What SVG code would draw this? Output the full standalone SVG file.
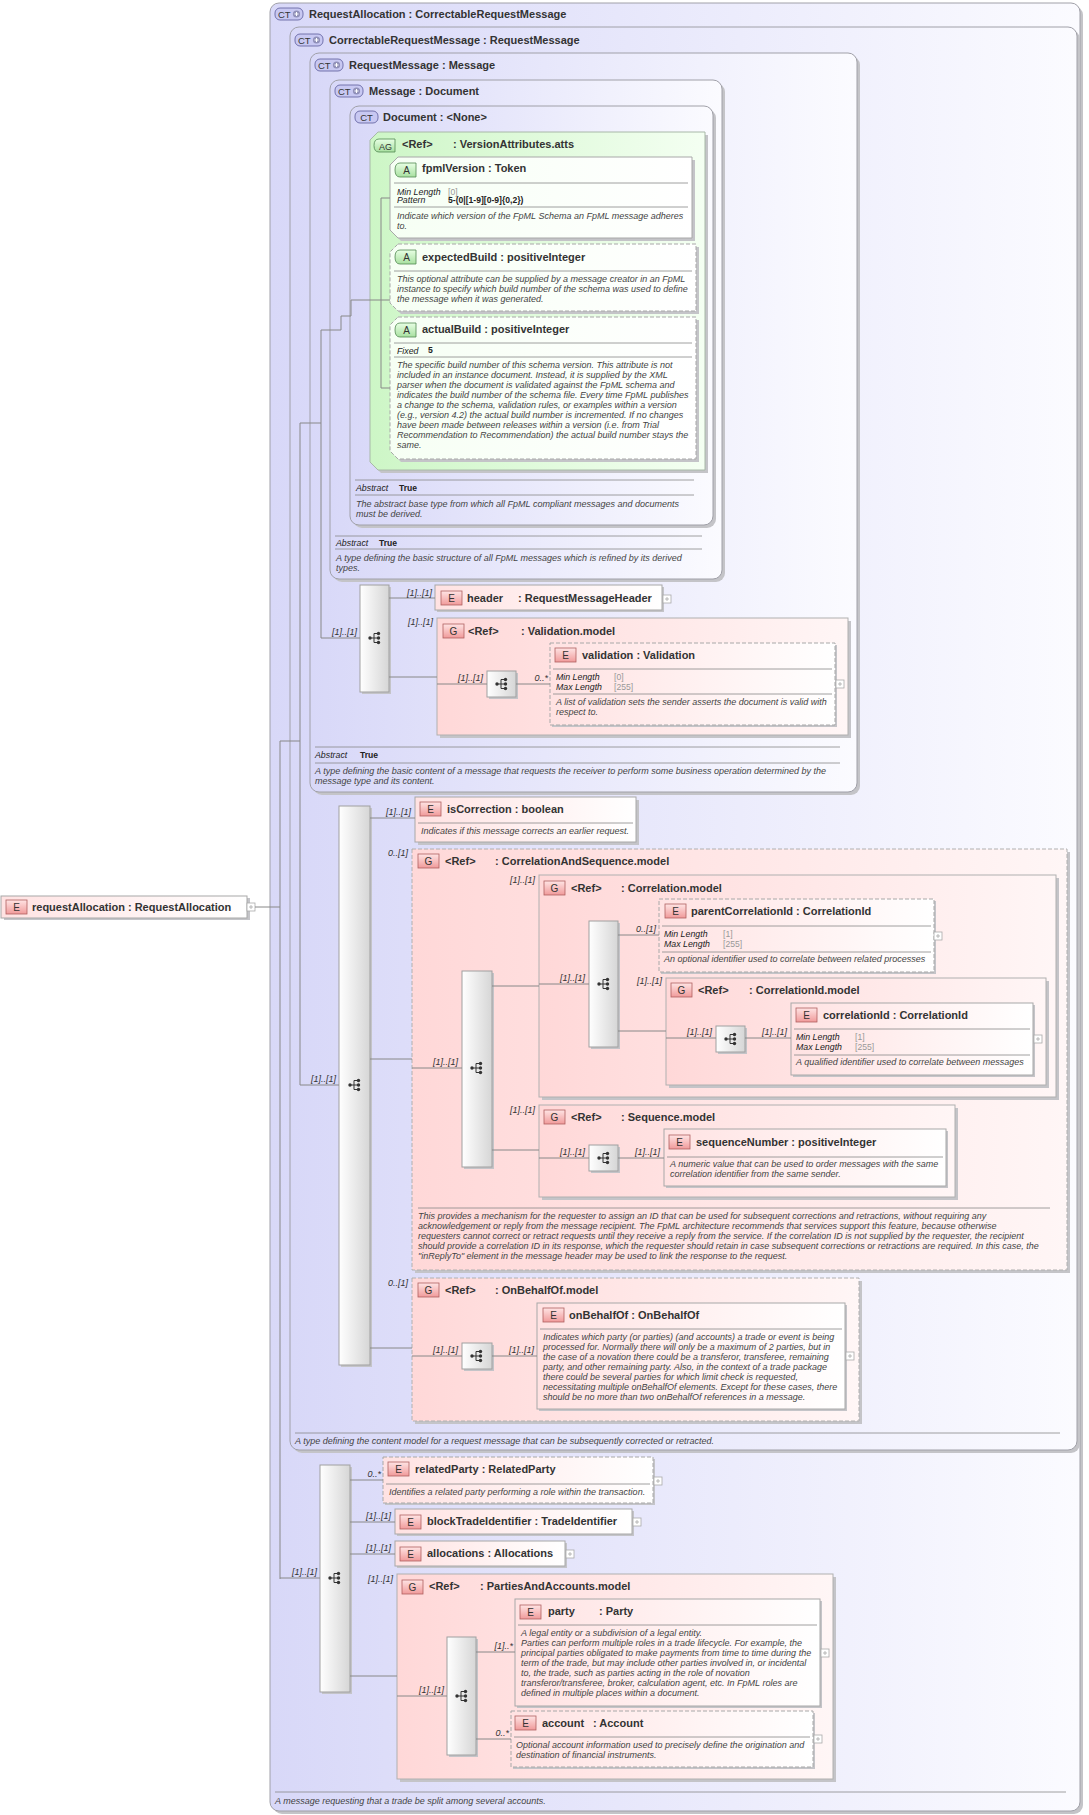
<svg xmlns="http://www.w3.org/2000/svg" width="1089" height="1815" viewBox="0 0 1089 1815">
<defs>
<linearGradient id="gCT" x1="0" y1="0" x2="1" y2="0"><stop offset="0" stop-color="#d8d8f8"/><stop offset="1" stop-color="#fbfbff"/></linearGradient>
<linearGradient id="gG" x1="0" y1="0" x2="1" y2="0"><stop offset="0" stop-color="#ffd8d8"/><stop offset="1" stop-color="#fff6f6"/></linearGradient>
<linearGradient id="gE" x1="0" y1="0" x2="1" y2="0"><stop offset="0" stop-color="#ffe2e2"/><stop offset="1" stop-color="#ffffff"/></linearGradient>
<linearGradient id="gAG" x1="0" y1="0" x2="1" y2="0"><stop offset="0" stop-color="#cdf6c6"/><stop offset="1" stop-color="#f4fff2"/></linearGradient>
<linearGradient id="gA" x1="0" y1="0" x2="1" y2="0"><stop offset="0" stop-color="#f6fff4"/><stop offset="1" stop-color="#ffffff"/></linearGradient>
<linearGradient id="gSeq" x1="0" y1="0" x2="1" y2="0"><stop offset="0" stop-color="#ffffff"/><stop offset="1" stop-color="#d6d6d6"/></linearGradient>
<linearGradient id="gBE" x1="0" y1="0" x2="0" y2="1"><stop offset="0" stop-color="#ffe4e4"/><stop offset="1" stop-color="#f09a9a"/></linearGradient>
<linearGradient id="gBA" x1="0" y1="0" x2="0" y2="1"><stop offset="0" stop-color="#e8ffe4"/><stop offset="1" stop-color="#a8e0a0"/></linearGradient>
<g id="seqIcon" fill="#333" stroke="#333" stroke-width="1">
<circle cx="-5" cy="0" r="1.7" stroke="none"/><line x1="-5" y1="0" x2="3" y2="0"/><line x1="-1" y1="-4.5" x2="-1" y2="4.5"/><line x1="-1" y1="-4.5" x2="3" y2="-4.5"/><line x1="-1" y1="4.5" x2="3" y2="4.5"/>
<circle cx="3.5" cy="-4.5" r="1.7" stroke="none"/><circle cx="3.5" cy="0" r="1.7" stroke="none"/><circle cx="3.5" cy="4.5" r="1.7" stroke="none"/>
</g>
<g id="plus"><rect x="0" y="0" width="8" height="8" fill="#fff" stroke="#aaa" stroke-width="0.8"/><path d="M2 4H6M4 2V6" stroke="#aaa" stroke-width="0.8"/></g>
<g id="bE"><rect x="0" y="0" width="21" height="14" fill="url(#gBE)" stroke="#b06060" stroke-width="0.8"/><text x="10.5" y="11" text-anchor="middle" font-family="Liberation Sans, Arial, sans-serif" font-size="10" fill="#333">E</text></g>
<g id="bG"><rect x="0" y="0" width="21" height="14" fill="url(#gBE)" stroke="#b06060" stroke-width="0.8"/><text x="10.5" y="11" text-anchor="middle" font-family="Liberation Sans, Arial, sans-serif" font-size="10" fill="#333">G</text></g>
<g id="bA"><path d="M5 0H21V14H5Q0 14 0 7Q0 0 5 0Z" fill="url(#gBA)" stroke="#508850" stroke-width="0.8"/><text x="11.5" y="11" text-anchor="middle" font-family="Liberation Sans, Arial, sans-serif" font-size="10" fill="#333">A</text></g>
<g id="bAG"><path d="M5 0H21V13H5Q0 13 0 6.5Q0 0 5 0Z" fill="url(#gBA)" stroke="#508850" stroke-width="0.8"/><text x="11.5" y="10.5" text-anchor="middle" font-family="Liberation Sans, Arial, sans-serif" font-size="9" fill="#333">AG</text></g>
<g id="bCTp"><rect x="0" y="0" width="28" height="12" rx="5" fill="#c8c8f2" stroke="#5a5a9a" stroke-width="0.8"/><text x="3" y="10" font-family="Liberation Sans, Arial, sans-serif" font-size="9.5" fill="#333">CT</text><circle cx="21.5" cy="6" r="3.6" fill="#9090b8"/><path d="M19.5 6H23.5M21.5 4V8" stroke="#fff" stroke-width="1.1"/></g>
<g id="bCT"><rect x="0" y="0" width="23" height="12" rx="5" fill="#c8c8f2" stroke="#5a5a9a" stroke-width="0.8"/><text x="11.5" y="10" text-anchor="middle" font-family="Liberation Sans, Arial, sans-serif" font-size="9.5" fill="#333">CT</text></g>
</defs>
<style>
.t{font-family:"Liberation Sans",Arial,sans-serif;font-size:11px;font-weight:bold;fill:#333}
.d{font-family:"Liberation Sans",Arial,sans-serif;font-size:9px;font-style:italic;fill:#444}
.k{font-family:"Liberation Sans",Arial,sans-serif;font-size:8.8px;font-style:italic;fill:#222}
.v{font-family:"Liberation Sans",Arial,sans-serif;font-size:8.6px;fill:#999}
.vb{font-family:"Liberation Sans",Arial,sans-serif;font-size:8.6px;font-weight:bold;fill:#222}
.m{font-family:"Liberation Sans",Arial,sans-serif;font-size:9px;font-style:italic;fill:#333;text-anchor:end}
.ct{fill:url(#gCT);stroke:#a0a0a8;stroke-width:1}
.sh{fill:#c4c4c8;stroke:none}
.gg{fill:url(#gG);stroke:#b0b0b0;stroke-width:1}
.ee{fill:url(#gE);stroke:#a8a8a8;stroke-width:1}
.dash{stroke-dasharray:4,2}
.sep{stroke:#888;stroke-width:0.8}
.seq{fill:url(#gSeq);stroke:#a0a0a0;stroke-width:1}
.cn{stroke:#888;stroke-width:1;fill:none}
</style>

<g id="ct-RequestAllocation">
<rect class="sh" x="273" y="6" width="810" height="1808" rx="9"/>
<rect class="ct" x="270" y="3" width="810" height="1808" rx="9"/>
<use href="#bCTp" x="275" y="8"/>
<text class="t" x="309" y="18">RequestAllocation : CorrectableRequestMessage</text>
<line class="sep" x1="275" y1="1792" x2="1066" y2="1792"/>
<text class="d" x="275" y="1804">A message requesting that a trade be split among several accounts.</text>
</g>

<g id="ct-CorrectableRequestMessage">
<rect class="sh" x="293" y="30" width="787" height="1423" rx="9"/>
<rect class="ct" x="290" y="27" width="787" height="1423" rx="9"/>
<use href="#bCTp" x="295" y="34"/>
<text class="t" x="329" y="44">CorrectableRequestMessage : RequestMessage</text>
<line class="sep" x1="295" y1="1433" x2="1060" y2="1433"/>
<text class="d" x="295" y="1444">A type defining the content model for a request message that can be subsequently corrected or retracted.</text>
</g>

<g id="ct-RequestMessage">
<rect class="sh" x="313" y="56" width="547" height="739" rx="9"/>
<rect class="ct" x="310" y="53" width="547" height="739" rx="9"/>
<use href="#bCTp" x="315" y="59"/>
<text class="t" x="349" y="69">RequestMessage : Message</text>
<line class="sep" x1="315" y1="747" x2="840" y2="747"/>
<text class="k" x="315" y="758">Abstract</text><text class="vb" x="360" y="758">True</text>
<line class="sep" x1="315" y1="763" x2="840" y2="763"/>
<text class="d" x="315" y="774">A type defining the basic content of a message that requests the receiver to perform some business operation determined by the</text>
<text class="d" x="315" y="784">message type and its content.</text>
</g>

<g id="ct-Message">
<rect class="sh" x="333" y="83" width="392" height="499" rx="9"/>
<rect class="ct" x="330" y="80" width="392" height="499" rx="9"/>
<use href="#bCTp" x="335" y="85"/>
<text class="t" x="369" y="95">Message : Document</text>
<line class="sep" x1="335" y1="536" x2="702" y2="536"/>
<text class="k" x="336" y="546">Abstract</text><text class="vb" x="379" y="546">True</text>
<line class="sep" x1="335" y1="549" x2="702" y2="549"/>
<text class="d" x="336" y="561">A type defining the basic structure of all FpML messages which is refined by its derived</text>
<text class="d" x="336" y="571">types.</text>
</g>

<g id="ct-Document">
<rect class="sh" x="353" y="109" width="363" height="419" rx="9"/>
<rect class="ct" x="350" y="106" width="363" height="419" rx="9"/>
<use href="#bCT" x="355" y="111"/>
<text class="t" x="383" y="121">Document : &lt;None&gt;</text>
<line class="sep" x1="355" y1="480" x2="694" y2="480"/>
<text class="k" x="356" y="491">Abstract</text><text class="vb" x="399" y="491">True</text>
<line class="sep" x1="355" y1="495" x2="694" y2="495"/>
<text class="d" x="356" y="507">The abstract base type from which all FpML compliant messages and documents</text>
<text class="d" x="356" y="517">must be derived.</text>
</g>

<g id="ag-VersionAttributes">
<path d="M381 135H708V473H381L373 465V143Z" fill="#c4c4c8"/>
<path d="M378 132H705V470H378L370 462V140Z" fill="url(#gAG)" stroke="#a8b8a8" stroke-width="1"/>
<use href="#bAG" x="374" y="139"/>
<text class="t" x="402" y="148">&lt;Ref&gt;</text><text class="t" x="453" y="148">: VersionAttributes.atts</text>
</g>

<g id="a-fpmlVersion">
<path d="M401 160H695V241H401L393 233V168Z" fill="#c4c4c8"/>
<path d="M398 157H692V238H398L390 230V165Z" fill="url(#gA)" stroke="#a8a8a8" stroke-width="1"/>
<use href="#bA" x="395" y="163"/>
<text class="t" x="422" y="172">fpmlVersion : Token</text>
<line class="sep" x1="394" y1="183" x2="688" y2="183"/>
<text class="k" x="397" y="195">Min Length</text><text class="v" x="448" y="195">[0]</text>
<text class="k" x="397" y="203">Pattern</text><text class="vb" x="448" y="203">5-(0|[1-9][0-9]{0,2})</text>
<line class="sep" x1="394" y1="207" x2="688" y2="207"/>
<text class="d" x="397" y="219">Indicate which version of the FpML Schema an FpML message adheres</text>
<text class="d" x="397" y="229">to.</text>
</g>

<g id="a-expectedBuild">
<path d="M401 247H699V314H401L393 306V255Z" fill="#c4c4c8"/>
<path class="dash" d="M398 244H696V311H398L390 303V252Z" fill="url(#gA)" stroke="#a8a8a8" stroke-width="1"/>
<use href="#bA" x="395" y="250"/>
<text class="t" x="422" y="261">expectedBuild : positiveInteger</text>
<line class="sep" x1="394" y1="271" x2="692" y2="271"/>
<text class="d" x="397" y="282">This optional attribute can be supplied by a message creator in an FpML</text>
<text class="d" x="397" y="292">instance to specify which build number of the schema was used to define</text>
<text class="d" x="397" y="302">the message when it was generated.</text>
</g>

<g id="a-actualBuild">
<path d="M401 320H699V462H401L393 454V328Z" fill="#c4c4c8"/>
<path class="dash" d="M398 317H696V459H398L390 451V325Z" fill="url(#gA)" stroke="#a8a8a8" stroke-width="1"/>
<use href="#bA" x="395" y="323"/>
<text class="t" x="422" y="333">actualBuild : positiveInteger</text>
<line class="sep" x1="394" y1="343" x2="692" y2="343"/>
<text class="k" x="397" y="354">Fixed</text><text class="vb" x="428" y="353">5</text>
<line class="sep" x1="394" y1="357" x2="692" y2="357"/>
<text class="d" x="397" y="368">The specific build number of this schema version. This attribute is not</text>
<text class="d" x="397" y="378">included in an instance document. Instead, it is supplied by the XML</text>
<text class="d" x="397" y="388">parser when the document is validated against the FpML schema and</text>
<text class="d" x="397" y="398">indicates the build number of the schema file. Every time FpML publishes</text>
<text class="d" x="397" y="408">a change to the schema, validation rules, or examples within a version</text>
<text class="d" x="397" y="418">(e.g., version 4.2) the actual build number is incremented. If no changes</text>
<text class="d" x="397" y="428">have been made between releases within a version (i.e. from Trial</text>
<text class="d" x="397" y="438">Recommendation to Recommendation) the actual build number stays the</text>
<text class="d" x="397" y="448">same.</text>
</g>

<g id="e-requestAllocation">
<rect class="sh" x="4" y="898" width="246" height="22"/>
<rect class="ee" x="1" y="896" width="246" height="22"/>
<use href="#bE" x="6" y="900"/>
<text class="t" x="32" y="911">requestAllocation : RequestAllocation</text>
<use href="#plus" x="247" y="903"/>
</g>

<g id="seq-header"><rect class="sh" x="362" y="587" width="29" height="107"/><rect class="seq" x="360" y="585" width="29" height="107"/><use href="#seqIcon" x="375" y="638"/></g>
<g id="e-header">
<rect class="sh" x="437" y="587" width="227" height="25"/><rect class="ee" x="435" y="585" width="227" height="25"/>
<use href="#bE" x="441" y="591"/><text class="t" x="467" y="602">header</text><text class="t" x="518" y="602">: RequestMessageHeader</text>
<use href="#plus" x="663" y="595"/>
</g>
<g id="g-Validation">
<rect class="sh" x="440" y="621" width="411" height="117"/><rect class="gg" x="437" y="618" width="411" height="117"/>
<use href="#bG" x="443" y="624"/><text class="t" x="468" y="635">&lt;Ref&gt;</text><text class="t" x="521" y="635">: Validation.model</text>
</g>
<g id="seq-validation"><rect class="sh" x="489" y="673" width="29" height="26"/><rect class="seq" x="487" y="671" width="29" height="26"/><use href="#seqIcon" x="502" y="684"/></g>
<g id="e-validation">
<rect class="sh" x="552" y="645" width="285" height="82"/><rect class="ee dash" x="550" y="643" width="285" height="82"/>
<use href="#bE" x="555" y="648"/><text class="t" x="582" y="659">validation : Validation</text>
<line class="sep" x1="553" y1="669" x2="832" y2="669"/>
<text class="k" x="556" y="680">Min Length</text><text class="v" x="614" y="680">[0]</text>
<text class="k" x="556" y="690">Max Length</text><text class="v" x="614" y="690">[255]</text>
<line class="sep" x1="553" y1="694" x2="832" y2="694"/>
<text class="d" x="556" y="705">A list of validation sets the sender asserts the document is valid with</text>
<text class="d" x="556" y="715">respect to.</text>
<use href="#plus" x="836" y="680"/>
</g>

<g id="seq-main1"><rect class="sh" x="341" y="808" width="31" height="559"/><rect class="seq" x="339" y="806" width="31" height="559"/><use href="#seqIcon" x="355" y="1085"/></g>
<g id="e-isCorrection">
<rect class="sh" x="418" y="800" width="221" height="45"/><rect class="ee" x="415" y="797" width="221" height="45"/>
<use href="#bE" x="420" y="802"/><text class="t" x="447" y="813">isCorrection : boolean</text>
<line class="sep" x1="418" y1="823" x2="633" y2="823"/>
<text class="d" x="421" y="834">Indicates if this message corrects an earlier request.</text>
</g>
<g id="g-CorrelationAndSequence">
<rect class="sh" x="415" y="852" width="655" height="421"/><rect class="gg dash" x="412" y="849" width="655" height="421"/>
<use href="#bG" x="418" y="854"/><text class="t" x="445" y="865">&lt;Ref&gt;</text><text class="t" x="495" y="865">: CorrelationAndSequence.model</text>
<line class="sep" x1="418" y1="1208" x2="1050" y2="1208"/>
<text class="d" x="418" y="1219">This provides a mechanism for the requester to assign an ID that can be used for subsequent corrections and retractions, without requiring any</text>
<text class="d" x="418" y="1229">acknowledgement or reply from the message recipient. The FpML architecture recommends that services support this feature, because otherwise</text>
<text class="d" x="418" y="1239">requesters cannot correct or retract requests until they receive a reply from the service. If the correlation ID is not supplied by the requester, the recipient</text>
<text class="d" x="418" y="1249">should provide a correlation ID in its response, which the requester should retain in case subsequent corrections or retractions are required. In this case, the</text>
<text class="d" x="418" y="1259">"inReplyTo" element in the message header may be used to link the response to the request.</text>
</g>
<g id="seq-cas"><rect class="sh" x="464" y="973" width="30" height="196"/><rect class="seq" x="462" y="971" width="30" height="196"/><use href="#seqIcon" x="477" y="1068"/></g>
<g id="g-Correlation">
<rect class="sh" x="542" y="878" width="517" height="222"/><rect class="gg" x="539" y="875" width="517" height="222"/>
<use href="#bG" x="544" y="881"/><text class="t" x="571" y="892">&lt;Ref&gt;</text><text class="t" x="621" y="892">: Correlation.model</text>
</g>
<g id="seq-corr"><rect class="sh" x="591" y="923" width="29" height="126"/><rect class="seq" x="589" y="921" width="29" height="126"/><use href="#seqIcon" x="604" y="984"/></g>
<g id="e-parentCorrelationId">
<rect class="sh" x="661" y="901" width="275" height="73"/><rect class="ee dash" x="659" y="899" width="275" height="73"/>
<use href="#bE" x="665" y="904"/><text class="t" x="691" y="915">parentCorrelationId : CorrelationId</text>
<line class="sep" x1="662" y1="926" x2="931" y2="926"/>
<text class="k" x="664" y="937">Min Length</text><text class="v" x="723" y="937">[1]</text>
<text class="k" x="664" y="947">Max Length</text><text class="v" x="723" y="947">[255]</text>
<line class="sep" x1="662" y1="952" x2="931" y2="952"/>
<text class="d" x="664" y="962">An optional identifier used to correlate between related processes</text>
<use href="#plus" x="934" y="932"/>
</g>
<g id="g-CorrelationId">
<rect class="sh" x="669" y="981" width="380" height="107"/><rect class="gg" x="666" y="978" width="380" height="107"/>
<use href="#bG" x="671" y="983"/><text class="t" x="698" y="994">&lt;Ref&gt;</text><text class="t" x="749" y="994">: CorrelationId.model</text>
</g>
<g id="seq-corrid"><rect class="sh" x="718" y="1028" width="29" height="26"/><rect class="seq" x="716" y="1026" width="29" height="26"/><use href="#seqIcon" x="731" y="1039"/></g>
<g id="e-correlationId">
<rect class="sh" x="793" y="1005" width="242" height="72"/><rect class="ee" x="791" y="1003" width="242" height="72"/>
<use href="#bE" x="796" y="1008"/><text class="t" x="823" y="1019">correlationId : CorrelationId</text>
<line class="sep" x1="794" y1="1029" x2="1030" y2="1029"/>
<text class="k" x="796" y="1040">Min Length</text><text class="v" x="855" y="1040">[1]</text>
<text class="k" x="796" y="1050">Max Length</text><text class="v" x="855" y="1050">[255]</text>
<line class="sep" x1="794" y1="1055" x2="1030" y2="1055"/>
<text class="d" x="796" y="1065">A qualified identifier used to correlate between messages</text>
<use href="#plus" x="1034" y="1035"/>
</g>
<g id="g-Sequence">
<rect class="sh" x="542" y="1108" width="416" height="92"/><rect class="gg" x="539" y="1105" width="416" height="92"/>
<use href="#bG" x="544" y="1110"/><text class="t" x="571" y="1121">&lt;Ref&gt;</text><text class="t" x="621" y="1121">: Sequence.model</text>
</g>
<g id="seq-seq"><rect class="sh" x="591" y="1147" width="29" height="26"/><rect class="seq" x="589" y="1145" width="29" height="26"/><use href="#seqIcon" x="604" y="1158"/></g>
<g id="e-sequenceNumber">
<rect class="sh" x="666" y="1131" width="282" height="57"/><rect class="ee" x="664" y="1129" width="282" height="57"/>
<use href="#bE" x="669" y="1135"/><text class="t" x="696" y="1146">sequenceNumber : positiveInteger</text>
<line class="sep" x1="667" y1="1157" x2="943" y2="1157"/>
<text class="d" x="670" y="1167">A numeric value that can be used to order messages with the same</text>
<text class="d" x="670" y="1177">correlation identifier from the same sender.</text>
</g>
<g id="g-OnBehalfOf">
<rect class="sh" x="415" y="1281" width="447" height="143"/><rect class="gg dash" x="412" y="1278" width="447" height="143"/>
<use href="#bG" x="418" y="1283"/><text class="t" x="445" y="1294">&lt;Ref&gt;</text><text class="t" x="495" y="1294">: OnBehalfOf.model</text>
</g>
<g id="seq-obo"><rect class="sh" x="464" y="1345" width="30" height="26"/><rect class="seq" x="462" y="1343" width="30" height="26"/><use href="#seqIcon" x="477" y="1356"/></g>
<g id="e-onBehalfOf">
<rect class="sh" x="539" y="1305" width="308" height="106"/><rect class="ee" x="537" y="1303" width="308" height="106"/>
<use href="#bE" x="543" y="1308"/><text class="t" x="569" y="1319">onBehalfOf : OnBehalfOf</text>
<line class="sep" x1="540" y1="1329" x2="842" y2="1329"/>
<text class="d" x="543" y="1340">Indicates which party (or parties) (and accounts) a trade or event is being</text>
<text class="d" x="543" y="1350">processed for. Normally there will only be a maximum of 2 parties, but in</text>
<text class="d" x="543" y="1360">the case of a novation there could be a transferor, transferee, remaining</text>
<text class="d" x="543" y="1370">party, and other remaining party. Also, in the context of a trade package</text>
<text class="d" x="543" y="1380">there could be several parties for which limit check is requested,</text>
<text class="d" x="543" y="1390">necessitating multiple onBehalfOf elements. Except for these cases, there</text>
<text class="d" x="543" y="1400">should be no more than two onBehalfOf references in a message.</text>
<use href="#plus" x="846" y="1352"/>
</g>

<g id="seq-main2"><rect class="sh" x="322" y="1467" width="30" height="227"/><rect class="seq" x="320" y="1465" width="30" height="227"/><use href="#seqIcon" x="335" y="1578"/></g>
<g id="e-relatedParty">
<rect class="sh" x="385" y="1459" width="270" height="46"/><rect class="ee dash" x="383" y="1457" width="270" height="46"/>
<use href="#bE" x="388" y="1462"/><text class="t" x="415" y="1473">relatedParty : RelatedParty</text>
<line class="sep" x1="386" y1="1484" x2="650" y2="1484"/>
<text class="d" x="389" y="1495">Identifies a related party performing a role within the transaction.</text>
<use href="#plus" x="654" y="1477"/>
</g>
<g id="e-blockTradeIdentifier">
<rect class="sh" x="397" y="1511" width="237" height="25"/><rect class="ee" x="395" y="1509" width="237" height="25"/>
<use href="#bE" x="400" y="1515"/><text class="t" x="427" y="1525">blockTradeIdentifier : TradeIdentifier</text>
<use href="#plus" x="633" y="1518"/>
</g>
<g id="e-allocations">
<rect class="sh" x="397" y="1543" width="170" height="25"/><rect class="ee" x="395" y="1541" width="170" height="25"/>
<use href="#bE" x="400" y="1547"/><text class="t" x="427" y="1557">allocations : Allocations</text>
<use href="#plus" x="566" y="1550"/>
</g>
<g id="g-PartiesAndAccounts">
<rect class="sh" x="400" y="1577" width="436" height="205"/><rect class="gg" x="397" y="1574" width="436" height="205"/>
<use href="#bG" x="402" y="1580"/><text class="t" x="429" y="1590">&lt;Ref&gt;</text><text class="t" x="480" y="1590">: PartiesAndAccounts.model</text>
</g>
<g id="seq-paa"><rect class="sh" x="449" y="1639" width="29" height="118"/><rect class="seq" x="447" y="1637" width="29" height="118"/><use href="#seqIcon" x="462" y="1696"/></g>
<g id="e-party">
<rect class="sh" x="517" y="1601" width="305" height="107"/><rect class="ee" x="515" y="1599" width="305" height="107"/>
<use href="#bE" x="520" y="1605"/><text class="t" x="548" y="1615">party</text><text class="t" x="599" y="1615">: Party</text>
<line class="sep" x1="518" y1="1625" x2="817" y2="1625"/>
<text class="d" x="521" y="1636">A legal entity or a subdivision of a legal entity.</text>
<text class="d" x="521" y="1646">Parties can perform multiple roles in a trade lifecycle. For example, the</text>
<text class="d" x="521" y="1656">principal parties obligated to make payments from time to time during the</text>
<text class="d" x="521" y="1666">term of the trade, but may include other parties involved in, or incidental</text>
<text class="d" x="521" y="1676">to, the trade, such as parties acting in the role of novation</text>
<text class="d" x="521" y="1686">transferor/transferee, broker, calculation agent, etc. In FpML roles are</text>
<text class="d" x="521" y="1696">defined in multiple places within a document.</text>
<use href="#plus" x="821" y="1649"/>
</g>
<g id="e-account">
<rect class="sh" x="513" y="1713" width="302" height="56"/><rect class="ee dash" x="511" y="1711" width="302" height="56"/>
<use href="#bE" x="515" y="1716"/><text class="t" x="542" y="1727">account</text><text class="t" x="593" y="1727">: Account</text>
<line class="sep" x1="514" y1="1737" x2="810" y2="1737"/>
<text class="d" x="516" y="1748">Optional account information used to precisely define the origination and</text>
<text class="d" x="516" y="1758">destination of financial instruments.</text>
<use href="#plus" x="814" y="1735"/>
</g>

<g id="connectors" class="cn">
<path d="M255 907H280M280 741V1579M280 741H300M280 1578H320"/>
<path d="M300 423V1085H339M300 423H321"/>
<path d="M321 330V638H360M321 330H341V316H351V300H381M381 198V388M381 198H390M381 300H390M381 388H390"/>
<path d="M389 598H435M389 677H437M437 684H487M516 684H550"/>
<path d="M370 818H415M370 1059H412M370 1348H412"/>
<path d="M412 1068H462M492 986H539M539 984H589M618 935H659M618 1031H666M666 1038H716M745 1038H791"/>
<path d="M492 1150H539M539 1158H589M618 1158H664"/>
<path d="M412 1356H462M492 1356H537"/>
<path d="M350 1480H383M350 1522H395M350 1554H395M350 1676H397"/>
<path d="M397 1696H447M476 1652H515M476 1739H511"/>
</g>
<g id="labels">
<text class="m" x="357" y="635">[1]..[1]</text>
<text class="m" x="336" y="1082">[1]..[1]</text>
<text class="m" x="317" y="1575">[1]..[1]</text>
<text class="m" x="432" y="596">[1]..[1]</text>
<text class="m" x="433" y="625">[1]..[1]</text>
<text class="m" x="483" y="681">[1]..[1]</text>
<text class="m" x="548" y="681">0..*</text>
<text class="m" x="411" y="815">[1]..[1]</text>
<text class="m" x="408" y="856">0..[1]</text>
<text class="m" x="458" y="1065">[1]..[1]</text>
<text class="m" x="535" y="883">[1]..[1]</text>
<text class="m" x="585" y="981">[1]..[1]</text>
<text class="m" x="656" y="932">0..[1]</text>
<text class="m" x="662" y="984">[1]..[1]</text>
<text class="m" x="712" y="1035">[1]..[1]</text>
<text class="m" x="787" y="1035">[1]..[1]</text>
<text class="m" x="535" y="1113">[1]..[1]</text>
<text class="m" x="585" y="1155">[1]..[1]</text>
<text class="m" x="660" y="1155">[1]..[1]</text>
<text class="m" x="408" y="1286">0..[1]</text>
<text class="m" x="458" y="1353">[1]..[1]</text>
<text class="m" x="534" y="1353">[1]..[1]</text>
<text class="m" x="381" y="1477">0..*</text>
<text class="m" x="391" y="1519">[1]..[1]</text>
<text class="m" x="391" y="1551">[1]..[1]</text>
<text class="m" x="393" y="1582">[1]..[1]</text>
<text class="m" x="444" y="1693">[1]..[1]</text>
<text class="m" x="513" y="1649">[1]..*</text>
<text class="m" x="509" y="1736">0..*</text>
</g>
</svg>
